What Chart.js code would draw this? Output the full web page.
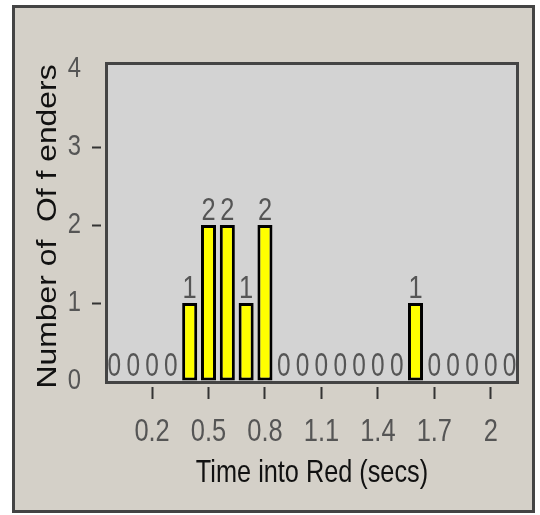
<!DOCTYPE html>
<html>
<head>
<meta charset="utf-8">
<script src="https://cdn.jsdelivr.net/npm/chart.js@4.4.1/dist/chart.umd.min.js"></script>
<style>
  html, body { margin: 0; padding: 0; background: #fff; }
  #frame { position: absolute; left: 12px; top: 5px; width: 517px; height: 502px; border: 3px solid #444; background: #d4d0c8; }
  #wrap { position: absolute; left: 0; top: 0; width: 540px; height: 515px; }
</style>
</head>
<body>
<div id="frame"></div>
<div id="wrap"><canvas id="chart" width="540" height="515"></canvas></div>
<script>
// time bins (secs) and how many offenders fell in each
const times = [0, 0.1, 0.2, 0.3, 0.4, 0.5, 0.6, 0.7, 0.8, 0.9, 1, 1.1, 1.2, 1.3, 1.4, 1.5, 1.6, 1.7, 1.8, 1.9, 2, 2.1];
const offenders = [0, 0, 0, 0, 1, 2, 2, 1, 2, 0, 0, 0, 0, 0, 0, 0, 1, 0, 0, 0, 0, 0];
const xTickLabels = [0.2, 0.5, 0.8, 1.1, 1.4, 1.7, 2];
const yTickValues = [0, 1, 2, 3, 4];

// no narrow font installed: a fake family name "SqueezeNN" tells fillText to scale text width by NN%
const narrow = "Squeeze82, 'Liberation Sans', Arial, sans-serif";
const narrower = "Squeeze79, 'Liberation Sans', Arial, sans-serif";
const wide = "Squeeze118, 'Liberation Sans', Arial, sans-serif";

const ctx = document.getElementById("chart").getContext("2d");
const rawFillText = ctx.fillText;
ctx.fillText = function (text, x, y, maxWidth) {
  const m = /Squeeze(\d+)/.exec(this.font);
  if (!m) {
    return maxWidth === undefined ? rawFillText.call(this, text, x, y) : rawFillText.call(this, text, x, y, maxWidth);
  }
  this.save();
  this.translate(x, y);
  this.scale(Number(m[1]) / 100, 1);
  rawFillText.call(this, text, 0, 0);
  this.restore();
};

// grey plot panel with dark border
const plotBox = {
  id: "plotBox",
  beforeDatasetsDraw(chart) {
    const { ctx, chartArea: a } = chart;
    ctx.save();
    ctx.fillStyle = "#d3d3d3";
    ctx.fillRect(a.left, a.top - 1, a.right - a.left, a.bottom - a.top + 4);
    ctx.strokeStyle = "#444";
    ctx.lineWidth = 3;
    ctx.strokeRect(a.left + 1.5, a.top + 0.5, a.right - a.left - 3, a.bottom - a.top + 1);
    ctx.restore();
  }
};

// counts written above each bar
const barLabels = {
  id: "barLabels",
  afterDatasetsDraw(chart) {
    const ctx = chart.ctx;
    const meta = chart.getDatasetMeta(0);
    ctx.save();
    ctx.fillStyle = "#555";
    ctx.textAlign = "center";
    ctx.textBaseline = "alphabetic";
    meta.data.forEach((bar, i) => {
      // the zeros are drawn a little taller in the original
      ctx.font = offenders[i] === 0 ? "33px Squeeze74, 'Liberation Sans', Arial, sans-serif" : "31px " + narrow;
      ctx.fillText(String(offenders[i]), bar.x, bar.y - 5);
    });
    ctx.restore();
  }
};

new Chart(ctx, {
  type: "bar",
  data: {
    labels: times.map(String),
    datasets: [{
      data: offenders,
      backgroundColor: "#ffff00",
      borderColor: "#000",
      borderWidth: 3,
      borderSkipped: false,
      categoryPercentage: 1,
      barPercentage: 0.8
    }]
  },
  options: {
    responsive: false,
    animation: false,
    layout: { padding: { left: 32, top: 63, right: 21, bottom: 17 } },
    plugins: { legend: { display: false }, tooltip: { enabled: false } },
    scales: {
      x: {
        border: { display: false },
        grid: {
          offset: false,
          drawOnChartArea: false,
          tickLength: 18,
          tickWidth: 2,
          tickBorderDash: [0, 6, 12, 100],
          tickColor: (c) => xTickLabels.includes(times[c.index]) ? "#333" : "rgba(0,0,0,0)"
        },
        ticks: {
          autoSkip: false,
          maxRotation: 0,
          color: "#555",
          padding: 15,
          font: { family: narrow, size: 31 },
          callback: (v, i) => xTickLabels.includes(times[i]) ? String(times[i]) : ""
        },
        title: {
          display: true,
          text: "Time into Red (secs)",
          color: "#111",
          font: { family: narrower, size: 32 },
          padding: { top: 6, bottom: 6 }
        },
        afterFit(s) { s.height = 117; }
      },
      y: {
        min: 0,
        max: 4.08,
        afterBuildTicks(s) { s.ticks = yTickValues.map((v) => ({ value: v })); },
        border: { display: false },
        grid: {
          drawOnChartArea: false,
          tickLength: 13,
          tickWidth: 2,
          tickBorderDash: [9, 100],
          tickColor: (c) => (c.tick && c.tick.value > 0 && c.tick.value < 4) ? "#333" : "rgba(0,0,0,0)"
        },
        ticks: {
          color: "#555",
          padding: 11,
          font: { family: narrow, size: 29 }
        },
        title: {
          display: true,
          text: "Number of  Of f enders ",
          color: "#111",
          font: { family: wide, size: 27 },
          padding: { top: 0, bottom: 0 }
        },
        afterFit(s) { s.width = 73; }
      }
    }
  },
  plugins: [plotBox, barLabels]
});
</script>
</body>
</html>
